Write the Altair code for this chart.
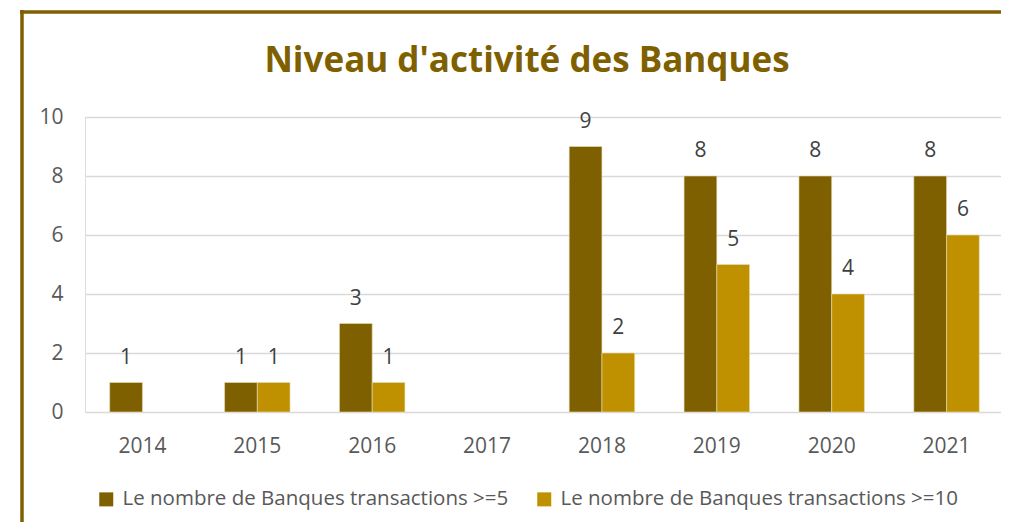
import altair as alt
import pandas as pd

years = ["2014", "2015", "2016", "2017", "2018", "2019", "2020", "2021"]
series_names = ["Le nombre de Banques transactions >=5", "Le nombre de Banques transactions >=10"]
values_5 = [1, 1, 3, None, 9, 8, 8, 8]
values_10 = [None, 1, 1, None, 2, 5, 4, 6]
colors = ["#7F6000", "#BF9000"]
title_text = "Niveau d'activité des Banques"

rows = []
for y, a, b in zip(years, values_5, values_10):
    if a is not None:
        rows.append({"year": y, "series": series_names[0], "value": a})
    if b is not None:
        rows.append({"year": y, "series": series_names[1], "value": b})
df = pd.DataFrame(rows)

FONT = "Open Sans"

x_enc = alt.X("year:N", sort=years, title=None,
              scale=alt.Scale(domain=years, range=[0, 919], paddingInner=0.43, paddingOuter=0.215),
              axis=alt.Axis(labelAngle=0, labelFontSize=21, labelColor="#595959", labelFont=FONT,
                            labelPadding=23, ticks=False, domain=False, grid=False))
xoff = alt.XOffset("series:N", sort=series_names, scale=alt.Scale(domain=series_names, paddingInner=0, paddingOuter=0))
y_enc = alt.Y("value:Q", title=None,
              scale=alt.Scale(domain=[0, 10], nice=False),
              axis=alt.Axis(values=[0, 2, 4, 6, 8, 10], labelFontSize=21, labelColor="#595959", labelFont=FONT,
                            labelPadding=22, ticks=False, domain=False, grid=True,
                            gridColor="#D9D9D9", gridWidth=1.5))

base = alt.Chart(df)

bars = base.mark_bar(stroke="#E8DDB5", strokeWidth=0.6).encode(
    x=x_enc, xOffset=xoff, y=y_enc,
    color=alt.Color("series:N", sort=series_names,
                    scale=alt.Scale(domain=series_names, range=colors),
                    legend=alt.Legend(title=None, orient="none", legendX=11, legendY=372,
                                      direction="horizontal", symbolType="square", symbolSize=196,
                                      symbolStrokeWidth=0, labelFontSize=20.5, labelColor="#595959",
                                      labelFont=FONT, labelOffset=6, columnPadding=25, labelLimit=600)),
)

labels = base.mark_text(baseline="alphabetic", dy=-19, fontSize=21, color="#404040", font=FONT).encode(
    x=alt.X("year:N", sort=years), xOffset=alt.XOffset("series:N", sort=series_names), y="value:Q",
    text="value:Q",
)

dummy = alt.Chart(pd.DataFrame({"k": [0]}))
top_border = dummy.mark_rule(color="#7F6000", strokeWidth=3.5).encode(
    x=alt.value(-65), x2=alt.value(930), y=alt.value(-105))
left_border = dummy.mark_rule(color="#7F6000", strokeWidth=3.5).encode(
    x=alt.value(-63), y=alt.value(-107), y2=alt.value(420))
title = dummy.mark_text(fontSize=35, font=FONT, fontWeight="bold", color="#7F6000",
                        align="center", baseline="alphabetic").encode(
    x=alt.value(442), y=alt.value(-45), text=alt.value(title_text))

chart = alt.layer(bars, labels, top_border, left_border, title).properties(
    width=916, height=295,
    autosize=alt.AutoSizeParams(type="none"),
    padding={"left": 77, "top": 109, "right": 0, "bottom": 110},
).configure_view(strokeWidth=0).configure(background="white")

chart.save("out.html", embed_options={"renderer": "svg", "actions": False})
